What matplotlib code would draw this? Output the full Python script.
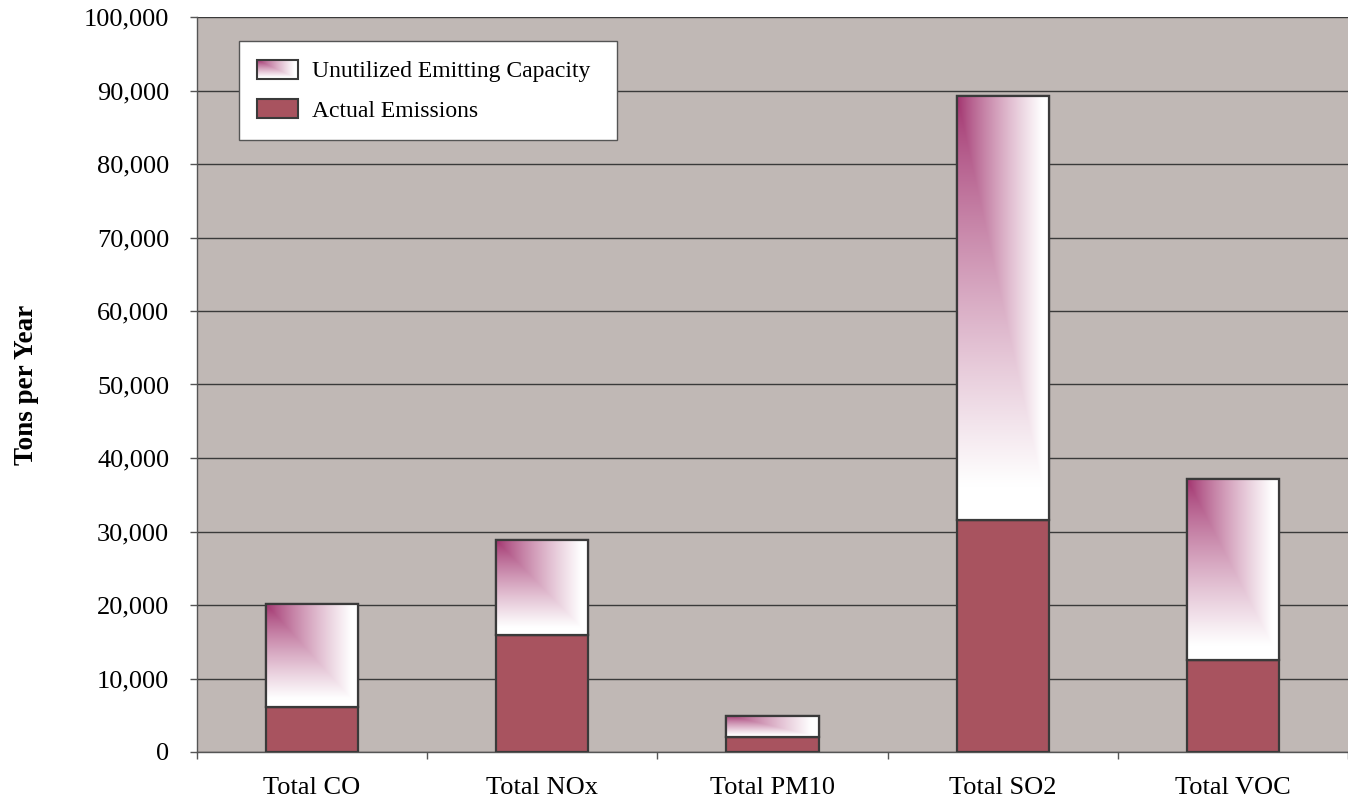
import numpy as np
import matplotlib
matplotlib.use("Agg")
import matplotlib.pyplot as plt
from matplotlib.patches import Rectangle
from matplotlib.image import BboxImage
from matplotlib.transforms import Bbox, TransformedBbox
from matplotlib.legend_handler import HandlerBase
from matplotlib.ticker import FuncFormatter, FixedLocator

plt.rcParams['font.family'] = ['Liberation Serif', 'DejaVu Serif']

categories = ['Total CO', 'Total NOx', 'Total PM10', 'Total SO2', 'Total VOC']
actual = [6100, 15900, 2000, 31600, 12500]
unutilized = [14000, 12900, 2900, 57700, 24600]

BG = '#c0b8b5'
ACTUAL_COLOR = '#a8535f'
GRAD_COLOR = np.array([160, 48, 108]) / 255.0
EDGE = '#3a3a3a'


def corner_gradient(h=200, w=200):
    # fades from the top-left corner out to white, rectangular contours
    yy, xx = np.mgrid[0:1:h * 1j, 0:1:w * 1j]
    t = np.maximum(xx, yy)
    s = np.clip(t / 0.92, 0, 1) ** 0.8
    img = np.ones((h, w, 3))
    for k in range(3):
        img[..., k] = GRAD_COLOR[k] * (1 - s) + 1.0 * s
    return img


class GradientHandler(HandlerBase):
    def create_artists(self, legend, orig_handle, xdescent, ydescent,
                       width, height, fontsize, trans):
        bb = TransformedBbox(Bbox.from_bounds(-xdescent, -ydescent, width, height), trans)
        im = BboxImage(bb, interpolation='bilinear')
        im.set_data(corner_gradient(40, 60))
        rect = Rectangle((-xdescent, -ydescent), width, height, facecolor='none',
                         edgecolor=EDGE, linewidth=1.5, transform=trans)
        return [im, rect]


fig = plt.figure(figsize=(13.48, 7.98), dpi=100)
ax = fig.add_axes([197 / 1348, 1 - 752 / 798, 1 - 197 / 1348, (752 - 17) / 798])
ax.set_facecolor(BG)

x = np.arange(len(categories))
width = 0.4

ax.bar(x, actual, width, color=ACTUAL_COLOR, edgecolor=EDGE, linewidth=1.6, zorder=3)
tops = ax.bar(x, unutilized, width, bottom=actual, color='white', edgecolor=EDGE,
              linewidth=1.6, zorder=3)
for rect in tops:
    x0, y0 = rect.get_x(), rect.get_y()
    w, h = rect.get_width(), rect.get_height()
    im = ax.imshow(corner_gradient(), extent=[x0, x0 + w, y0, y0 + h], aspect='auto',
                   interpolation='bilinear', zorder=3.5)
    im.set_clip_path(rect)
    edge = Rectangle((x0, y0), w, h, facecolor='none', edgecolor=EDGE, linewidth=1.6, zorder=4)
    ax.add_patch(edge)

ax.set_xlim(-0.5, len(categories) - 0.5)
ax.set_ylim(0, 100000)
ax.set_yticks(np.arange(0, 100001, 10000))
ax.yaxis.set_major_formatter(FuncFormatter(lambda v, p: f'{int(v):,}'))
ax.grid(axis='y', color='#3a3a3a', linewidth=1.0, zorder=1)
ax.set_axisbelow(True)

ax.set_xticks(x)
ax.set_xticklabels(categories)
ax.xaxis.set_minor_locator(FixedLocator(np.arange(-0.5, len(categories), 1.0)))
ax.tick_params(axis='x', which='major', length=0, pad=18, labelsize=19)
ax.tick_params(axis='x', which='minor', length=5, width=1, color='#555555')
ax.tick_params(axis='y', length=5, width=1, color='#555555', pad=15, labelsize=19)

for side in ['top', 'right']:
    ax.spines[side].set_visible(False)
for side in ['left', 'bottom']:
    ax.spines[side].set_color('#555555')
    ax.spines[side].set_linewidth(1.0)

ax.set_ylabel('Tons per Year', fontsize=19.5, fontweight='bold')
ax.yaxis.set_label_coords(-0.137, 0.5)

h_grad = Rectangle((0, 0), 1, 1)
h_act = Rectangle((0, 0), 1, 1, facecolor=ACTUAL_COLOR, edgecolor=EDGE, linewidth=1.5)
leg = ax.legend([h_grad, h_act], ['Unutilized Emitting Capacity', 'Actual Emissions'],
                handler_map={h_grad: GradientHandler()},
                loc='upper left', bbox_to_anchor=(0.0365, 0.0, 0.3284, 0.967),
                mode='expand', fontsize=17,
                frameon=True, fancybox=False, edgecolor='#555555', framealpha=1,
                borderpad=0.78, handlelength=1.7, handleheight=0.85, handletextpad=0.6,
                labelspacing=0.72, borderaxespad=0)
leg.get_frame().set_linewidth(1.0)
leg.set_zorder(5)

fig.savefig('out.png', dpi=100)
